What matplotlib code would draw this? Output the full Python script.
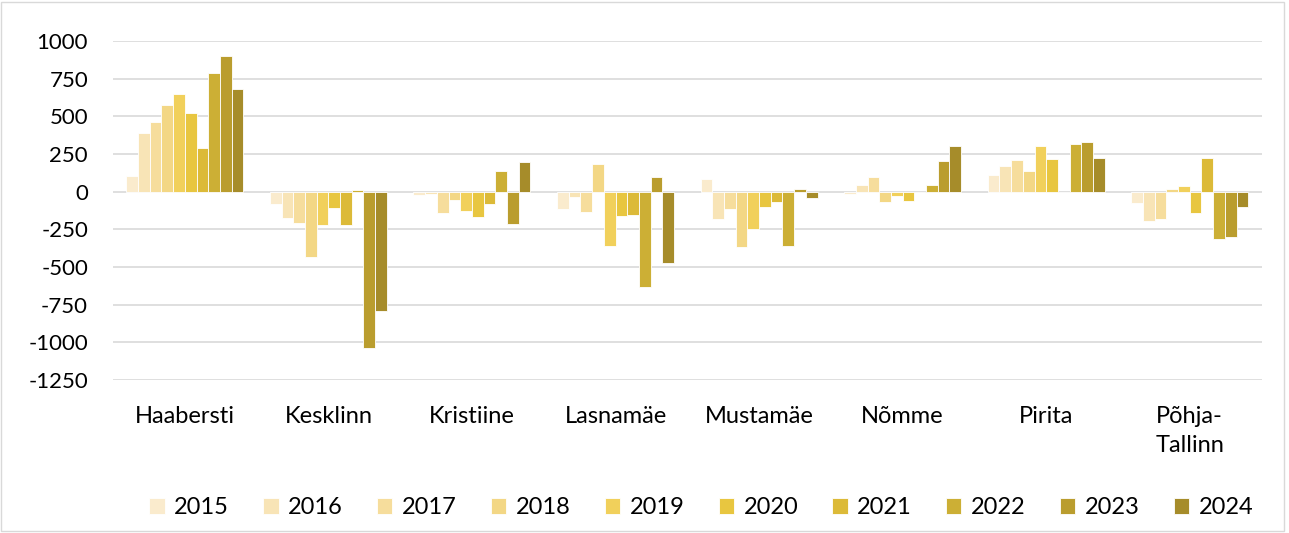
import matplotlib.pyplot as plt
import numpy as np
from matplotlib.patches import Rectangle

plt.rcParams['font.family'] = ['Lato', 'DejaVu Sans']

districts = ['Haabersti', 'Kesklinn', 'Kristiine', 'Lasnamäe', 'Mustamäe',
             'Nõmme', 'Pirita', 'Põhja-\nTallinn']
years = ['2015', '2016', '2017', '2018', '2019', '2020', '2021', '2022', '2023', '2024']

# one list per year, values per district in the order above
v2015 = [106, -84, -22, -115, 86, -15, 113, -77]
v2016 = [389, -175, -18, -38, -184, 44, 168, -197]
v2017 = [460, -210, -139, -133, -113, 97, 212, -181]
v2018 = [577, -434, -58, 184, -365, -71, 137, 20]
v2019 = [646, -223, -131, -363, -246, -27, 305, 35]
v2020 = [520, -108, -166, -164, -102, -62, 219, -142]
v2021 = [290, -221, -80, -153, -69, 0, 0, 221]
v2022 = [787, 11, 135, -633, -363, 44, 319, -312]
v2023 = [900, -1040, -212, 95, 18, 203, 332, -301]
v2024 = [683, -794, 195, -476, -44, 303, 226, -104]
values = [v2015, v2016, v2017, v2018, v2019, v2020, v2021, v2022, v2023, v2024]

colors = ['#FAEBCD', '#F8E4B6', '#F6DD9C', '#F3D785', '#F1D05B',
          '#E8C640', '#DCBA38', '#CCAF35', '#BA9D2E', '#A68C2A']

fig = plt.figure(figsize=(12.89, 5.33), dpi=100)
ax = fig.add_axes([0.0877, 0.287, 0.891, 0.636])

x = np.arange(len(districts))
width = 0.0815
for i, (yr, vals) in enumerate(zip(years, values)):
    ax.bar(x + (i - 4.5) * width, vals, width, color=colors[i],
           edgecolor='white', linewidth=0.6, label=yr, zorder=3)

ax.set_xlim(-0.5, len(districts) - 0.5)
ax.set_ylim(-1250, 1000)
ax.set_yticks(np.arange(-1250, 1001, 250))
ax.set_yticklabels([str(t) for t in range(-1250, 1001, 250)], fontsize=16)
ax.set_xticks(x)
ax.set_xticklabels(districts, fontsize=17, linespacing=1.45)
ax.tick_params(axis='x', length=0, pad=19)
ax.tick_params(axis='y', length=0, pad=18)
ax.grid(axis='y', color='#D9D9D9', linewidth=1.2, zorder=0)
for s in ax.spines.values():
    s.set_visible(False)

fig.legend(loc='center', bbox_to_anchor=(0.544, 0.048), ncol=10, frameon=False,
           fontsize=17, handlelength=0.65, handleheight=0.65, handletextpad=0.4,
           columnspacing=1.45)

fig.patches.append(Rectangle((0.001, 0.004), 0.995, 0.992, transform=fig.transFigure,
                             fill=False, edgecolor='#D9D9D9', linewidth=1))

fig.savefig('out.png', dpi=100)
